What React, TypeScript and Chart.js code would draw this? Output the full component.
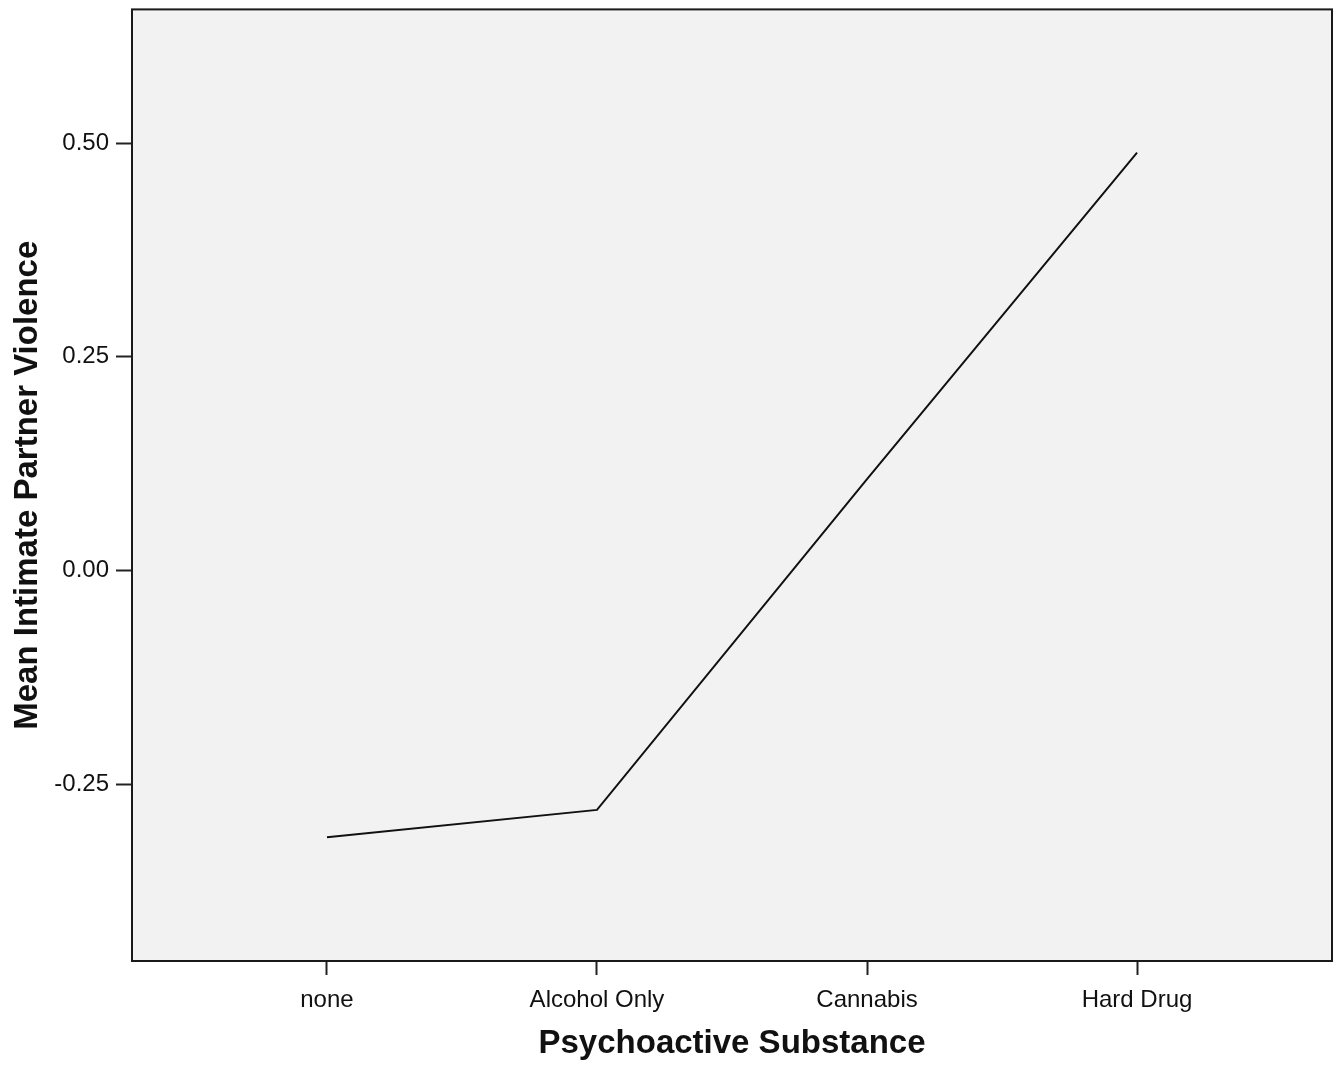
import React, { useEffect, useRef } from "react";
import { Chart, registerables } from "chart.js";

Chart.register(...registerables);

const categories = ["none", "Alcohol Only", "Cannabis", "Hard Drug"];
const meanValues = [-0.312, -0.28, 0.107, 0.489];
const yTickValues = [-0.25, 0, 0.25, 0.5];
const xTitle = "Psychoactive Substance";
const yTitle = "Mean Intimate Partner Violence";

const FONT = "'Liberation Sans', Arial, sans-serif";

const framePlugin = {
  id: "frame",
  beforeDraw(chart: any) {
    const { ctx, chartArea } = chart;
    ctx.save();
    ctx.fillStyle = "#f2f2f2";
    ctx.fillRect(chartArea.left, chartArea.top, chartArea.right - chartArea.left, chartArea.bottom - chartArea.top);
    ctx.restore();
  },
  afterDraw(chart: any) {
    const { ctx, chartArea } = chart;
    ctx.save();
    ctx.strokeStyle = "#1a1a1a";
    ctx.lineWidth = 2;
    ctx.strokeRect(chartArea.left, chartArea.top, chartArea.right - chartArea.left, chartArea.bottom - chartArea.top);
    ctx.restore();
  },
};

export default function App() {
  const ref = useRef<HTMLCanvasElement | null>(null);
  useEffect(() => {
    if (!ref.current) return;
    const chart = new Chart(ref.current, {
      type: "line",
      data: {
        datasets: [
          {
            data: meanValues.map((v, i) => ({ x: i, y: v })),
            borderColor: "#111111",
            borderWidth: 2,
            pointRadius: 0,
            fill: false,
            tension: 0,
          },
        ],
      },
      options: {
        animation: false,
        responsive: false,
        maintainAspectRatio: false,
        layout: { padding: { left: 0, right: 10, top: 8, bottom: 0 } },
        plugins: { legend: { display: false }, tooltip: { enabled: false } },
        scales: {
          x: {
            type: "linear",
            min: -0.722,
            max: 3.722,
            afterBuildTicks: (scale: any) => {
              scale.ticks = categories.map((_, i) => ({ value: i }));
            },
            afterFit: (scale: any) => {
              scale.height = 105;
            },
            ticks: {
              callback: (v: any) => categories[v as number] ?? "",
              color: "#111",
              font: { family: FONT, size: 24 },
              padding: 11,
              maxRotation: 0,
              autoSkip: false,
            },
            grid: {
              drawOnChartArea: false,
              drawTicks: true,
              tickLength: 14,
              tickColor: "#222",
              tickWidth: 2,
            },
            border: { display: false },
            title: {
              display: true,
              text: xTitle,
              color: "#111",
              font: { family: FONT, size: 33, weight: "bold" },
              padding: { top: 0, bottom: 2 },
            },
          },
          y: {
            type: "linear",
            min: -0.4568,
            max: 0.6565,
            afterBuildTicks: (scale: any) => {
              scale.ticks = yTickValues.map((v) => ({ value: v }));
            },
            afterFit: (scale: any) => {
              scale.width = 132;
            },
            ticks: {
              callback: (v: any) => Number(v).toFixed(2),
              color: "#111",
              font: { family: FONT, size: 24, lineHeight: 0.2 },
              padding: 7,
            },
            grid: {
              drawOnChartArea: false,
              drawTicks: true,
              tickLength: 16,
              tickColor: "#222",
              tickWidth: 2,
            },
            border: { display: false },
            title: {
              display: true,
              text: yTitle,
              color: "#111",
              font: { family: FONT, size: 33, weight: "bold" },
              padding: { top: 8, bottom: 0 },
            },
          },
        },
      },
      plugins: [framePlugin],
    } as any);
    return () => chart.destroy();
  }, []);
  return (
    <div style={{ position: "fixed", left: 0, top: 0, width: 1342, height: 1066, background: "#fff" }}>
      <canvas ref={ref} width={1342} height={1066} style={{ display: "block" }} />
    </div>
  );
}
